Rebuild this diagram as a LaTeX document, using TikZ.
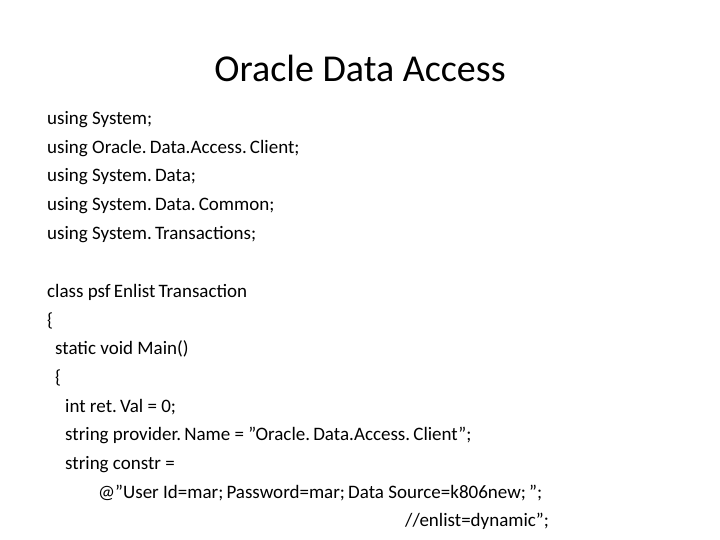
\documentclass[tikz,border=0pt]{standalone}
\usepackage{fontspec}
\setmainfont{Carlito}
\usetikzlibrary{positioning}
\tikzset{
  codeline/.style={anchor=base west, inner sep=0pt, font=\fontsize{19}{22}\selectfont},
  slidetitle/.style={anchor=base, inner sep=0pt, font=\fontsize{38}{44}\selectfont}
}
\begin{document}
\begin{tikzpicture}[x=1pt, y=-1pt]
\useasboundingbox (0,0) rectangle (720,540);
% title
\node[slidetitle] (title) at (360,82) {Oracle Data Access};
% using block
\node[codeline] (use1) at (47,125) {using System;};
\node[codeline] (use2) at (47,154) {using Oracle.\,Data.Access.\,Client;};
\node[codeline] (use3) at (47,182) {using System.\,Data;};
\node[codeline] (use4) at (47,211) {using System.\,Data.\,Common;};
\node[codeline] (use5) at (47,240) {using System.\,Transactions;};
% class body
\node[codeline] (cls)   at (47,297) {class psf\,Enlist\,Transaction};
\node[codeline] (brc1)  at (47,326) {\{};
\node[codeline] (mainf) at (55,354) {static void Main()};
\node[codeline] (brc2)  at (55,383) {\{};
\node[codeline] (ret)   at (65,412) {int ret.\,Val = 0;};
\node[codeline] (prov)  at (65,440) {string provider.\,Name = "Oracle.\,Data.Access.\,Client";};
\node[codeline] (cstr)  at (65,469) {string constr =};
\node[codeline] (user)  at (98,498) {@"User Id=mar;\,Password=mar;\,Data Source=k806new;\,”;};
\node[codeline] (enl)   at (405,526) {//enlist=dynamic";};
\end{tikzpicture}
\end{document}
